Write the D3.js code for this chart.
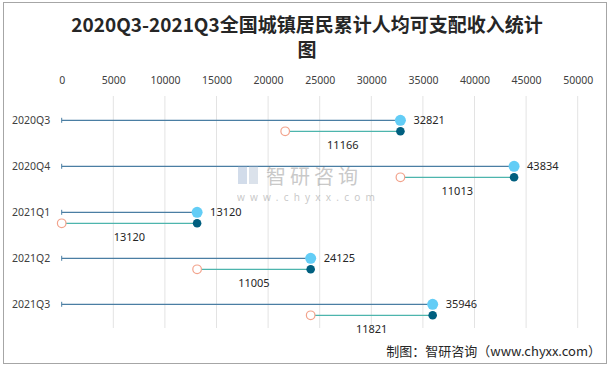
<!DOCTYPE html>
<html>
<head>
<meta charset="utf-8">
<script src="https://cdn.jsdelivr.net/npm/d3@7"></script>
<style>
  body { margin: 0; background: #fff; }
  svg text { font-family: "Noto Sans", "Noto Sans CJK SC", sans-serif; }
</style>
</head>
<body>
<div id="chart"></div>
<script>
// quarters
var quarters = ["2020Q3", "2020Q4", "2021Q1", "2021Q2", "2021Q3"];
// cumulative income (yuan)
var cumulative = [32821, 43834, 13120, 24125, 35946];
// quarterly increment (yuan)
var increment = [11166, 11013, 13120, 11005, 11821];
// axis ticks
var ticks = [0, 5000, 10000, 15000, 20000, 25000, 30000, 35000, 40000, 45000, 50000];

const w = 614, h = 369;

const svg = d3.select("#chart").append("svg")
  .attr("width", w)
  .attr("height", h);

svg.append("rect")
  .attr("x", 3.5).attr("y", 2.5)
  .attr("width", 603).attr("height", 361)
  .attr("fill", "#fff")
  .attr("stroke", "#a6a6a6");

// title
const title = svg.append("text")
  .attr("text-anchor", "middle")
  .attr("fill", "#262626")
  .style("font-family", "'Noto Sans CJK SC', sans-serif")
  .style("font-size", "19px")
  .style("font-weight", "bold");
title.append("tspan").attr("x", 307).attr("y", 32).text("2020Q3-2021Q3全国城镇居民累计人均可支配收入统计");
title.append("tspan").attr("x", 307).attr("y", 57).text("图");

const xScale = d3.scaleLinear()
  .domain([0, 50000])
  .range([61.7, 577.7]);

const yScale = d3.scaleBand()
  .domain(quarters)
  .range([97.3, 327.3]);

// grid lines
svg.selectAll("line.grid")
  .data(ticks.slice(1))
  .enter().append("line")
  .attr("class", "grid")
  .attr("x1", d => xScale(d)).attr("x2", d => xScale(d))
  .attr("y1", 96).attr("y2", 328)
  .attr("stroke", "#e3e3e3");

// top axis
const xAxis = d3.axisTop(xScale).tickValues(ticks).tickFormat(d3.format("d")).tickSize(0).tickPadding(0);
const gx = svg.append("g")
  .attr("transform", "translate(0,84)")
  .call(xAxis);
gx.select(".domain").remove();
gx.selectAll("text")
  .attr("fill", "#404040")
  .style("font-size", "10.5px");

// category labels
svg.selectAll("text.cat")
  .data(quarters)
  .enter().append("text")
  .attr("class", "cat")
  .attr("x", 12)
  .attr("y", d => yScale(d) + yScale.bandwidth() / 2)
  .attr("dy", "0.35em")
  .attr("fill", "#404040")
  .style("font-size", "10.5px")
  .text(d => d);

const rows = quarters.map((q, i) => ({
  q: q,
  total: cumulative[i],
  inc: increment[i],
  start: cumulative[i] - increment[i]
}));

const mid = d => yScale(d.q) + yScale.bandwidth() / 2;
const low = d => mid(d) + 11;

// cumulative line from zero
svg.selectAll("line.main")
  .data(rows)
  .enter().append("line")
  .attr("x1", xScale(0)).attr("x2", d => xScale(d.total))
  .attr("y1", mid).attr("y2", mid)
  .attr("stroke", "#4a7ea3")
  .attr("stroke-width", 1.3);

svg.selectAll("line.cap")
  .data(rows)
  .enter().append("line")
  .attr("x1", xScale(0)).attr("x2", xScale(0))
  .attr("y1", d => mid(d) - 2.5).attr("y2", d => mid(d) + 2.5)
  .attr("stroke", "#4a7ea3")
  .attr("stroke-width", 1);

// increment line
svg.selectAll("line.inc")
  .data(rows)
  .enter().append("line")
  .attr("x1", d => xScale(d.start)).attr("x2", d => xScale(d.total))
  .attr("y1", low).attr("y2", low)
  .attr("stroke", "#4db5ad")
  .attr("stroke-width", 1.3);

svg.selectAll("circle.start")
  .data(rows)
  .enter().append("circle")
  .attr("cx", d => xScale(d.start))
  .attr("cy", low)
  .attr("r", 4.3)
  .attr("fill", "#fff")
  .attr("stroke", "#f2a38c")
  .attr("stroke-width", 1.2);

svg.selectAll("circle.end")
  .data(rows)
  .enter().append("circle")
  .attr("cx", d => xScale(d.total))
  .attr("cy", low)
  .attr("r", 4.3)
  .attr("fill", "#005f7f");

svg.selectAll("circle.total")
  .data(rows)
  .enter().append("circle")
  .attr("cx", d => xScale(d.total))
  .attr("cy", mid)
  .attr("r", 5.5)
  .attr("fill", "#63cdf6");

// labels
svg.selectAll("text.totalLbl")
  .data(rows)
  .enter().append("text")
  .attr("x", d => xScale(d.total) + 13)
  .attr("y", mid)
  .attr("dy", "0.35em")
  .attr("fill", "#262626")
  .style("font-size", "11px")
  .text(d => d.total);

svg.selectAll("text.incLbl")
  .data(rows)
  .enter().append("text")
  .attr("x", d => (xScale(d.start) + xScale(d.total)) / 2)
  .attr("y", d => low(d) + 14)
  .attr("dy", "0.35em")
  .attr("text-anchor", "middle")
  .attr("fill", "#262626")
  .style("font-size", "11px")
  .text(d => d.inc);

// watermark
const wm = svg.append("g").attr("opacity", 0.35);
wm.append("rect").attr("x", 238).attr("y", 166).attr("width", 9).attr("height", 18).attr("fill", "#7f9ec4");
wm.append("rect").attr("x", 249).attr("y", 166).attr("width", 9).attr("height", 18).attr("fill", "#9aaec8");
wm.append("text")
  .attr("x", 266).attr("y", 184)
  .attr("fill", "#666")
  .style("font-family", "'Noto Sans CJK SC', sans-serif")
  .style("font-size", "20px")
  .style("letter-spacing", "4px")
  .text("智研咨询");
wm.append("text")
  .attr("x", 237).attr("y", 201)
  .attr("fill", "#666")
  .style("font-size", "10px")
  .style("letter-spacing", "5.2px")
  .text("www.chyxx.com");

// source
svg.append("text")
  .attr("x", 601).attr("y", 356)
  .attr("text-anchor", "end")
  .attr("fill", "#262626")
  .style("font-family", "'Noto Sans CJK SC', sans-serif")
  .style("font-size", "13px")
  .text("制图：智研咨询（www.chyxx.com）");
</script>
</body>
</html>
